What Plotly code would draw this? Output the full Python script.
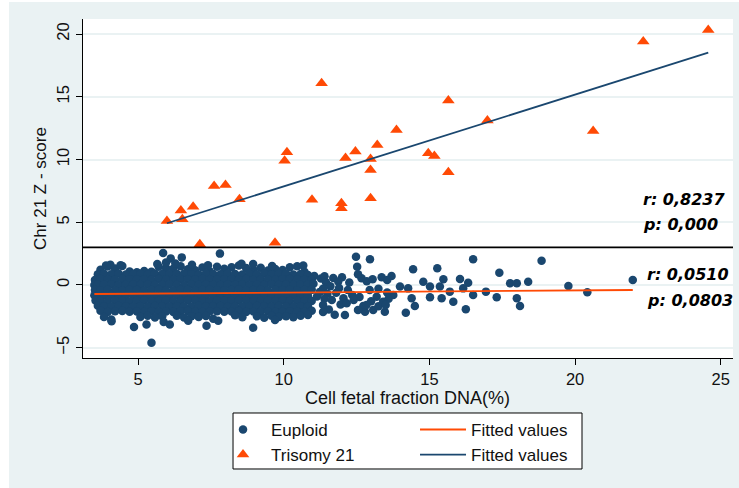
import plotly.graph_objects as go

# ---------------------------------------------------------------------------
# Trisomy 21 pregnancies: fetal fraction (%) vs chromosome 21 Z-score
# ---------------------------------------------------------------------------
t21_ff = [11.30, 15.65, 13.87, 13.21, 12.46, 12.12, 12.98, 12.98, 14.96, 15.17,
          15.65, 10.11, 10.03, 7.61, 8.00, 8.48, 6.89, 6.47, 6.52, 5.99,
          10.97, 11.98, 11.98, 12.98, 7.12, 9.70, 24.57, 22.34, 16.99, 20.62]
t21_z = [16.08, 14.70, 12.36, 11.16, 10.63, 10.13, 10.05, 9.17, 10.50, 10.29,
         8.99, 10.58, 9.91, 7.89, 7.97, 6.83, 6.24, 5.93, 5.24, 5.10,
         6.80, 6.51, 6.12, 6.91, 3.24, 3.37, 20.33, 19.40, 13.10, 12.28]

# ---------------------------------------------------------------------------
# Euploid pregnancies, dense core (one line per Z-score band)
# ---------------------------------------------------------------------------
core_ff = [
    3.71, 3.96, 4.21, 4.46, 4.71, 4.96, 5.21, 5.46, 5.71, 5.96, 6.21, 6.46, 6.71, 6.96, 7.21,
    7.46, 7.71, 7.96, 8.21, 8.46, 8.71, 8.96, 9.21, 9.46, 9.71, 9.96, 10.21, 10.46, 10.71,
    3.62, 3.83, 4.08, 4.33, 4.58, 4.83, 5.08, 5.33, 5.58, 5.83, 6.08, 6.33, 6.58, 6.83, 7.08, 7.33,
    7.58, 7.83, 8.08, 8.33, 8.58, 8.83, 9.08, 9.33, 9.58, 9.83, 10.08, 10.33, 10.58, 10.83, 11.05,
    3.52, 3.71, 3.96, 4.21, 4.46, 4.71, 4.96, 5.21, 5.46, 5.71, 5.96, 6.21, 6.46, 6.71, 6.96, 7.21,
    7.46, 7.71, 7.96, 8.21, 8.46, 8.71, 8.96, 9.21, 9.46, 9.71, 9.96, 10.21, 10.46, 10.71, 10.96, 11.28,
    3.50, 3.62, 3.83, 4.08, 4.33, 4.58, 4.83, 5.08, 5.33, 5.58, 5.83, 6.08, 6.33, 6.58, 6.83, 7.08,
    7.33, 7.58, 7.83, 8.08, 8.33, 8.58, 8.83, 9.08, 9.33, 9.58, 9.83, 10.08, 10.33, 10.58, 10.83, 11.02,
    3.52, 3.71, 3.96, 4.21, 4.46, 4.71, 4.96, 5.21, 5.46, 5.71, 5.96, 6.21, 6.46, 6.71, 6.96, 7.21,
    7.46, 7.71, 7.96, 8.21, 8.46, 8.71, 8.96, 9.21, 9.46, 9.71, 9.96, 10.21, 10.46, 10.71, 10.96, 11.24,
    3.50, 3.62, 3.83, 4.08, 4.33, 4.58, 4.83, 5.08, 5.33, 5.58, 5.83, 6.08, 6.33, 6.58, 6.83, 7.08,
    7.33, 7.58, 7.83, 8.08, 8.33, 8.58, 8.83, 9.08, 9.33, 9.58, 9.83, 10.08, 10.33, 10.58, 10.83, 11.14,
    3.54, 3.71, 3.96, 4.21, 4.46, 4.71, 4.96, 5.21, 5.46, 5.71, 5.96, 6.21, 6.46, 6.71, 6.96, 7.21,
    7.46, 7.71, 7.96, 8.21, 8.46, 8.71, 8.96, 9.21, 9.46, 9.71, 9.96, 10.21, 10.46, 10.71, 10.96,
    3.62, 3.83, 4.08, 4.33, 4.58, 4.83, 5.08, 5.33, 5.58, 5.83, 6.08, 6.33, 6.58, 6.83, 7.08,
    7.33, 7.58, 7.83, 8.08, 8.33, 8.58, 8.83, 9.08, 9.33, 9.58, 9.83, 10.08, 10.33, 10.58, 10.83,
    3.71, 3.96, 4.21, 4.46, 4.71, 4.96, 5.21, 5.46, 5.71, 5.96, 6.21, 6.46, 6.71, 6.96, 7.21,
    7.46, 7.71, 7.96, 8.21, 8.46, 8.71, 8.96, 9.21, 9.46, 9.71, 9.96, 10.21, 10.46, 10.71, 10.96,
    3.83, 4.08, 5.08, 5.33, 5.58, 5.83, 6.33, 6.58, 6.83, 7.08, 7.33,
    7.58, 8.33, 8.58, 9.08, 9.33, 9.58, 9.83, 10.08, 10.33, 10.58, 10.83,
]
core_z = [
    1.22, 1.48, 1.31, 1.52, 1.08, 1.02, 1.12, 1.05, 1.45, 1.36, 1.30, 1.50, 1.25, 1.18, 1.40,
    1.10, 1.46, 1.29, 1.41, 1.55, 1.35, 1.22, 1.38, 1.15, 1.28, 1.20, 1.42, 1.50, 1.05,
    0.85, 0.90, 0.86, 0.92, 0.84, 0.88, 0.90, 0.83, 0.91, 0.87, 0.85, 0.89, 0.92, 0.86, 0.84, 0.90,
    0.88, 0.85, 0.91, 0.87, 0.83, 0.89, 0.86, 0.92, 0.85, 0.88, 0.90, 0.84, 0.87, 0.80, 0.72,
    0.40, 0.47, 0.44, 0.42, 0.48, 0.45, 0.43, 0.46, 0.41, 0.47, 0.44, 0.42, 0.46, 0.45, 0.43, 0.48,
    0.44, 0.41, 0.46, 0.45, 0.42, 0.47, 0.44, 0.43, 0.46, 0.41, 0.45, 0.48, 0.43, 0.44, 0.40, 0.52,
    0.00, 0.03, 0.01, 0.05, -0.02, 0.02, 0.04, 0.00, 0.03, -0.01, 0.02, 0.05, 0.01, -0.02, 0.03, 0.00,
    0.04, 0.02, -0.01, 0.03, 0.01, 0.04, -0.02, 0.02, 0.00, 0.05, 0.01, 0.03, -0.01, 0.02, 0.04, 0.10,
    -0.40, -0.43, -0.38, -0.42, -0.44, -0.39, -0.41, -0.43, -0.40, -0.37, -0.42, -0.44, -0.40, -0.38, -0.43, -0.41,
    -0.39, -0.44, -0.42, -0.40, -0.37, -0.43, -0.41, -0.39, -0.44, -0.40, -0.42, -0.38, -0.43, -0.41, -0.39, -0.55,
    -0.82, -0.86, -0.83, -0.80, -0.85, -0.87, -0.82, -0.84, -0.81, -0.86, -0.83, -0.85, -0.80, -0.84, -0.87, -0.82,
    -0.85, -0.83, -0.81, -0.86, -0.84, -0.82, -0.87, -0.83, -0.80, -0.85, -0.84, -0.86, -0.81, -0.83, -0.85, -0.92,
    -1.24, -1.28, -1.30, -1.25, -1.27, -1.31, -1.26, -1.23, -1.29, -1.27, -1.25, -1.30, -1.28, -1.24, -1.26,
    -1.29, -1.31, -1.25, -1.27, -1.28, -1.23, -1.26, -1.30, -1.27, -1.25, -1.29, -1.24, -1.28, -1.26, -1.30, -1.27,
    -1.66, -1.70, -1.73, -1.68, -1.71, -1.74, -1.69, -1.72, -1.67, -1.70, -1.73, -1.69, -1.71, -1.74, -1.68,
    -1.72, -1.70, -1.67, -1.73, -1.69, -1.71, -1.74, -1.68, -1.70, -1.72, -1.67, -1.71, -1.73, -1.69, -1.70,
    -2.05, -2.15, -2.10, -2.08, -2.14, -2.12, -2.16, -2.09, -2.13, -2.11, -2.15, -2.10, -2.07, -2.13, -2.16,
    -2.11, -2.09, -2.14, -2.12, -2.08, -2.15, -2.11, -2.13, -2.10, -2.16, -2.12, -2.09, -2.14, -2.11, -2.05,
    -2.55, -2.75, -2.55, -2.45, -2.60, -2.50, -2.45, -2.60, -2.50, -2.55, -2.48,
    -2.70, -2.42, -2.58, -2.50, -2.62, -2.45, -2.55, -2.50, -2.58, -2.45, -2.40,
]

# Euploid pregnancies around the edges of the core and at higher fractions
edge_ff = [5.86, 6.12, 5.96, 6.50, 7.81, 6.28, 5.66, 8.55, 8.95, 10.67, 4.40, 4.05, 6.85, 7.40, 9.60, 3.90,
           4.09, 4.86, 5.29, 5.46, 5.88, 6.09, 7.35, 7.75, 8.95, 6.72, 9.70]
edge_z = [2.55, 2.12, 1.80, 2.20, 2.50, 1.72, 1.68, 1.70, 1.68, 1.55, 1.58, 1.62, 1.62, 1.58, 1.52, 1.55,
          -2.90, -3.35, -3.15, -4.60, -2.95, -3.15, -3.25, -2.85, -3.40, -2.85, -2.80]

tail_ff = [11.40, 11.70, 12.00, 12.25, 11.45, 11.87, 11.60, 11.35, 11.90, 12.20, 11.50, 11.80,
           12.35, 11.40, 11.65, 12.05, 11.35, 11.95, 12.16, 11.55, 11.35, 11.75, 12.10,
           12.48, 12.96, 12.52, 16.50, 18.85, 14.44, 15.27, 17.40, 12.67, 13.36, 13.70, 14.79,
           15.48, 16.05, 16.33, 17.77, 18.00, 18.39, 19.77, 20.42, 21.98, 13.99, 14.27, 15.02,
           15.36, 15.70, 16.16, 16.50, 16.94, 17.31, 18.00, 18.11, 14.39, 14.50, 15.02, 15.42,
           15.82, 16.25, 14.19, 13.47, 12.79, 13.07, 13.19, 13.41, 13.76, 12.73, 12.55, 12.85,
           13.05, 13.55, 12.95, 13.25, 13.55, 12.60, 13.00, 13.60, 12.55, 13.25, 13.50, 12.40, 12.84]
tail_z = [0.70, 0.55, 0.62, 0.20, 0.22, 0.28, -0.10, -0.30, -0.25, -0.40, -0.70, -0.62,
          -0.80, -1.10, -1.20, -1.05, -1.60, -1.55, -1.46, -1.95, -2.15, -2.38, -2.39,
          2.25, 2.05, 1.46, 2.05, 1.94, 1.25, 1.33, 0.98, 0.53, 0.61, 0.72, 0.26,
          0.45, 0.48, 0.18, 0.14, 0.14, 0.26, -0.08, -0.58, 0.40, -0.13, -0.27, -0.13,
          -0.13, -0.53, -0.27, -0.80, -0.53, -0.98, -1.06, -1.67, -1.06, -1.67, -0.98, -1.06,
          -1.33, -1.94, -2.21, -2.13, -2.13, -1.99, -0.93, -1.33, -0.80, -1.67, 0.85, 0.30,
          0.45, 0.40, -0.40, -0.30, -0.60, -0.95, -1.30, -1.10, -2.00, -1.70, -1.60, -1.20, -1.60]

euploid_ff = core_ff + edge_ff + tail_ff
euploid_z = core_z + edge_z + tail_z

# Linear fits (end points of each fitted line)
fit_euploid_ff = [3.50, 21.98]
fit_euploid_z = [-0.72, -0.40]
fit_t21_ff = [5.99, 24.57]
fit_t21_z = [4.92, 18.52]

# Z-score cut-off and correlation statistics
z_cutoff = 3
stats_t21 = ["r: 0,8237", "p: 0,000"]
stats_euploid = ["r: 0,0510", "p: 0,0803"]

x_ticks = [5, 10, 15, 20, 25]
y_ticks = [-5, 0, 5, 10, 15, 20]

NAVY = "#1A476F"
ORANGE = "#FF4A05"
BG = "#EAF2F3"
FONT = "Liberation Sans, Arial, sans-serif"

fig = go.Figure()
fig.add_trace(go.Scatter(
    x=euploid_ff, y=euploid_z, mode="markers", name="Euploid",
    legendgroup="obs", marker=dict(color=NAVY, size=8.5, line=dict(width=0)),
))
fig.add_trace(go.Scatter(
    x=t21_ff, y=t21_z, mode="markers", name="Trisomy 21",
    legendgroup="obs", marker=dict(color=ORANGE, size=11, symbol="triangle-up", line=dict(width=0)),
))
fig.add_trace(go.Scatter(
    x=fit_euploid_ff, y=fit_euploid_z, mode="lines", name="Fitted values",
    legendgroup="fit", line=dict(color=ORANGE, width=1.8),
))
fig.add_trace(go.Scatter(
    x=fit_t21_ff, y=fit_t21_z, mode="lines", name="Fitted values",
    legendgroup="fit", line=dict(color=NAVY, width=1.8),
))

# Z-score cut-off line
fig.add_shape(type="line", xref="paper", x0=0, x1=1, yref="y", y0=z_cutoff, y1=z_cutoff,
              line=dict(color="black", width=1.6))

# White margin round the grey graph region
fig.add_shape(type="rect", xref="paper", yref="paper", x0=-0.2, x1=-0.1138, y0=-0.5, y1=1.2,
              fillcolor="white", line=dict(width=0), layer="below")
fig.add_shape(type="rect", xref="paper", yref="paper", x0=-0.2, x1=1.1, y0=1.05, y1=1.2,
              fillcolor="white", line=dict(width=0), layer="below")

# Legend frame
fig.add_shape(type="rect", xref="paper", yref="paper", x0=0.2308, x1=0.7677, y0=-0.3274, y1=-0.1622,
              fillcolor="white", line=dict(color="black", width=1), layer="below")

stat_font = dict(family="DejaVu Sans", size=16, color="black")
for text, yv in zip(stats_t21, [6.78, 4.86]):
    fig.add_annotation(text=f"<b><i>{text}</i></b>", xref="paper", x=0.8585, xanchor="left",
                       yref="y", y=yv, yanchor="middle", showarrow=False, font=stat_font)
for text, yv in zip(stats_euploid, [0.80, -1.20]):
    fig.add_annotation(text=f"<b><i>{text}</i></b>", xref="paper", x=0.8646, xanchor="left",
                       yref="y", y=yv, yanchor="middle", showarrow=False, font=stat_font)

# x-axis title
fig.add_annotation(text="Cell fetal fraction DNA(%)", xref="paper", x=0.4985, xanchor="center",
                   yref="paper", y=-0.1180, yanchor="middle", showarrow=False,
                   font=dict(family=FONT, size=18, color="#111"))

fig.update_layout(
    width=739, height=488,
    margin=dict(l=83, r=6, t=19, b=130),
    paper_bgcolor=BG, plot_bgcolor="white",
    font=dict(family=FONT, size=16, color="#111"),
    showlegend=True,
    legend=dict(
        orientation="h", traceorder="grouped", itemwidth=46,
        entrywidth=139, entrywidthmode="pixels",
        x=0.2031, xanchor="left", y=-0.1592, yanchor="top",
        bgcolor="rgba(0,0,0,0)", borderwidth=0,
        font=dict(family=FONT, size=17, color="#111"),
    ),
    xaxis=dict(
        range=[3.11, 25.42], tickvals=x_ticks, ticks="outside", ticklen=6, tickcolor="black",
        showline=True, linecolor="black", linewidth=1, showgrid=False, zeroline=False,
        tickfont=dict(size=16.5),
    ),
    yaxis=dict(
        range=[-5.82, 21.2], tickvals=y_ticks, ticks="outside", ticklen=6, tickcolor="black",
        tickangle=-90, showline=True, linecolor="black", linewidth=1,
        showgrid=True, gridcolor=BG, gridwidth=2, zeroline=False,
        tickfont=dict(size=16.5),
        title=dict(text="Chr 21 Z - score", font=dict(size=17), standoff=3),
    ),
)

fig.write_html("out.html")
